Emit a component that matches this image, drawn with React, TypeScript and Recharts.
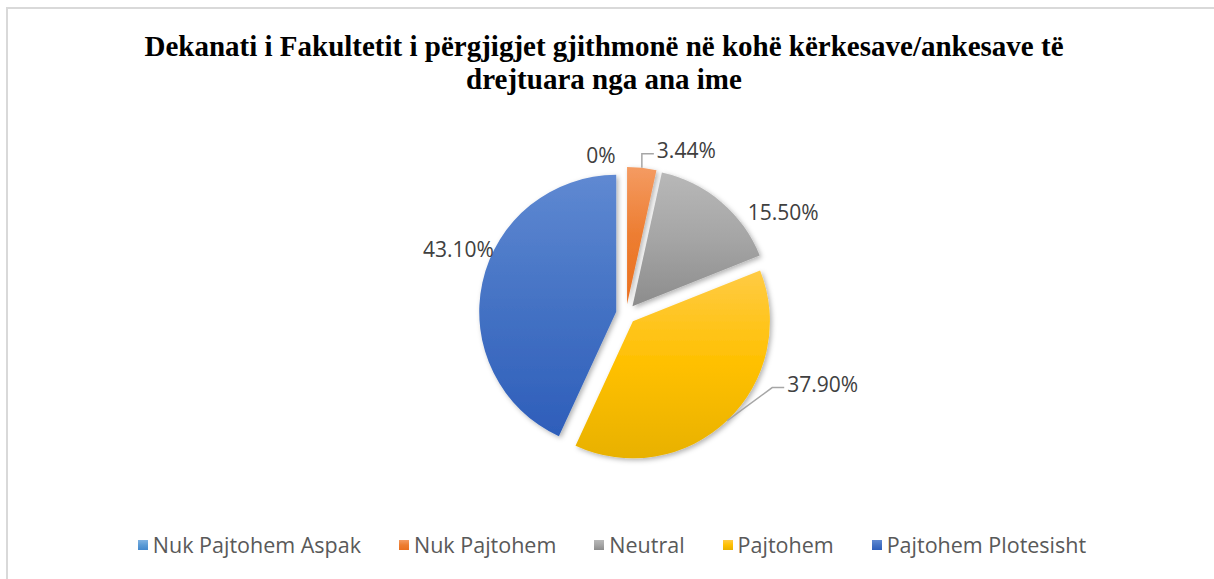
import { PieChart, Pie, Cell } from "recharts";

const categories = ["Nuk Pajtohem Aspak", "Nuk Pajtohem", "Neutral", "Pajtohem", "Pajtohem Plotesisht"];
const values = [0, 3.44, 15.5, 37.9, 43.1];
const valueLabels = ["0%", "3.44%", "15.50%", "37.90%", "43.10%"];

// top / middle / bottom of the vertical gradient on each slice
const gradients = [
  ["#7fb2e2", "#5b9bd5", "#4488cc"],
  ["#f49b62", "#ed7d31", "#ea7020"],
  ["#b8b8b8", "#a5a5a5", "#8c8c8c"],
  ["#ffcb45", "#ffc000", "#e8b100"],
  ["#5f89d2", "#4472c4", "#2e5eba"],
];

// label offsets relative to the outer edge of each slice, in px
const labelPlacement = [
  { dx: -25, dy: -12, anchor: "middle", leader: false },
  { dx: 15, dy: -18, anchor: "start", leader: true },
  { dx: 62, dy: 10, anchor: "middle", leader: false },
  { dx: 60, dy: -37, anchor: "start", leader: true },
  { dx: -24, dy: -34, anchor: "middle", leader: false },
];

const CX = 626;
const CY = 314;
const R = 137;
const EXPLODE = 10;

const data = categories.map((name, i) => ({ name, value: values[i] }));
const total = values.reduce((a, b) => a + b, 0);
const midAngles = values.map((v, i) => {
  const before = values.slice(0, i).reduce((a, b) => a + b, 0);
  return ((before + v / 2) / total) * 360;
});

const RAD = Math.PI / 180;

function makeLabel(i: number) {
  return (p: any) => {
    if (p.index !== i) return null;
    const px = p.cx + Math.cos(-p.midAngle * RAD) * p.outerRadius;
    const py = p.cy + Math.sin(-p.midAngle * RAD) * p.outerRadius;
    const pl = labelPlacement[i];
    const lx = px + pl.dx;
    const ly = py + pl.dy;
    return (
      <g key={`lbl-${i}`}>
        {pl.leader && (
          <polyline
            points={`${px},${py} ${lx - 15},${ly + 4} ${lx - 3},${ly + 4}`}
            fill="none"
            stroke="#a6a6a6"
            strokeWidth={1.5}
          />
        )}
        <text
          x={lx}
          y={ly}
          textAnchor={pl.anchor as any}
          dominantBaseline="central"
          fill="#404040"
          fontSize={21}
          fontFamily="'Open Sans', sans-serif"
        >
          {valueLabels[i]}
        </text>
      </g>
    );
  };
}

export default function App() {
  return (
    <div style={{ position: "absolute", left: 0, top: 0, width: 1214, height: 579, background: "#fff", overflow: "hidden" }}>
      <div
        style={{
          position: "absolute",
          left: 6,
          top: 7,
          width: 1230,
          height: 600,
          borderTop: "2px solid #d9d9d9",
          borderLeft: "2px solid #d9d9d9",
        }}
      />
      <div style={{ position: "absolute", left: 0, top: 0 }}>
        <PieChart width={1214} height={579} margin={{ top: 0, right: 0, bottom: 0, left: 0 }}>
          <defs>
            {gradients.map((g, i) => (
              <linearGradient key={i} id={`grad${i}`} x1="0" y1="0" x2="0" y2="1">
                <stop offset="0%" stopColor={g[0]} />
                <stop offset="50%" stopColor={g[1]} />
                <stop offset="100%" stopColor={g[2]} />
              </linearGradient>
            ))}
            <filter id="shadow" x="-20%" y="-20%" width="140%" height="140%">
              <feDropShadow dx="2" dy="2" stdDeviation="2.5" floodColor="#000" floodOpacity="0.3" />
            </filter>
          </defs>
          {values.map((_, i) => (
            <Pie
              key={i}
              data={data}
              dataKey="value"
              nameKey="name"
              cx={CX + EXPLODE * Math.sin(midAngles[i] * RAD)}
              cy={CY - EXPLODE * Math.cos(midAngles[i] * RAD)}
              outerRadius={R}
              startAngle={90}
              endAngle={-270}
              stroke="none"
              isAnimationActive={false}
              label={makeLabel(i)}
              labelLine={false}
            >
              {data.map((_, j) => (
                <Cell
                  key={j}
                  fill={j === i ? `url(#grad${j})` : "none"}
                  stroke="none"
                  filter={j === i ? "url(#shadow)" : undefined}
                />
              ))}
            </Pie>
          ))}
        </PieChart>
      </div>
      <div
        style={{
          position: "absolute",
          left: 0,
          top: 30,
          width: 1214,
          textAlign: "center",
          fontFamily: "'Liberation Serif', 'Times New Roman', serif",
          fontWeight: "bold",
          fontSize: 29,
          lineHeight: "33px",
          color: "#000",
          transform: "translateX(-3px)",
          whiteSpace: "nowrap",
        }}
      >
        Dekanati i Fakultetit i përgjigjet gjithmonë në kohë kërkesave/ankesave të
        <br />
        drejtuara nga ana ime
      </div>
      <div
        style={{
          position: "absolute",
          left: 0,
          top: 530,
          width: 1224,
          display: "flex",
          justifyContent: "center",
          gap: 38,
          fontFamily: "'Open Sans', sans-serif",
          fontSize: 21.5,
          color: "#595959",
        }}
      >
        {categories.map((c, i) => (
          <div key={c} style={{ display: "flex", alignItems: "center", gap: 5 }}>
            <div
              style={{
                width: 10,
                height: 10,
                background: `linear-gradient(${gradients[i][0]}, ${gradients[i][1]}, ${gradients[i][2]})`,
              }}
            />
            <span>{c}</span>
          </div>
        ))}
      </div>
    </div>
  );
}
